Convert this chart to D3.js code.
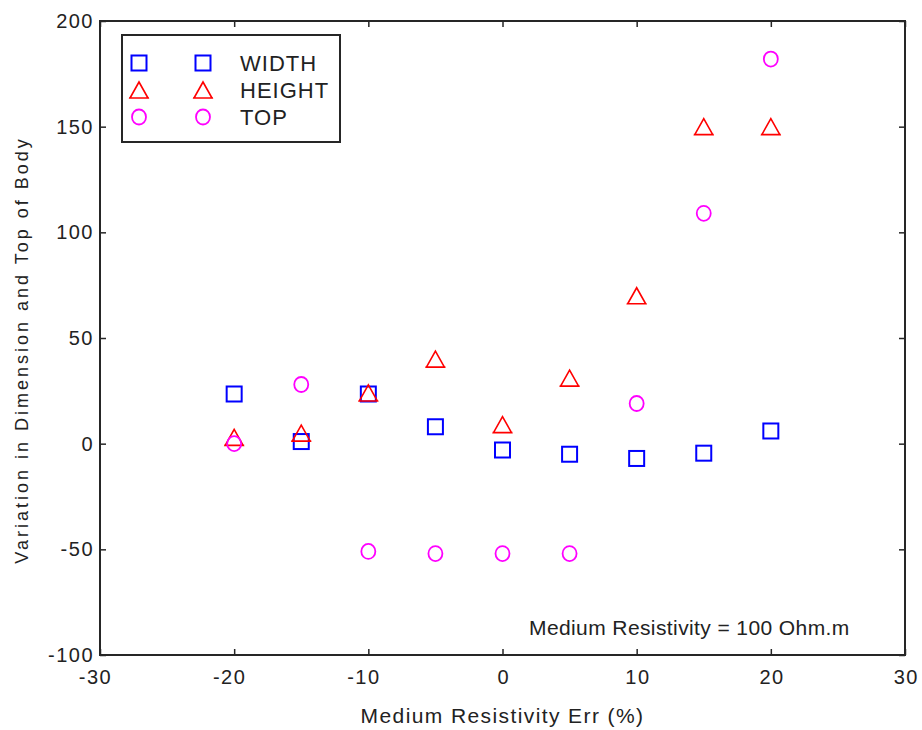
<!DOCTYPE html>
<html>
<head>
<meta charset="utf-8">
<script src="https://cdn.jsdelivr.net/npm/d3@7"></script>
<style>
  body { margin: 0; background: #fff; }
  text { font-family: 'Liberation Sans', Arial, sans-serif; fill: #222; }
</style>
</head>
<body>
<div id="chart"></div>
<script>
const errPct = [-20, -15, -10, -5, 0, 5, 10, 15, 20];
const widthVals = [23.5, 1, 23.5, 8, -3, -5, -7, -4.5, 6];
const heightVals = [3, 5, 24, 40, 9, 31, 70, 150, 150];
const topVals = [0, 28, -51, -52, -52, -52, 19, 109, 182];
const xTicks = [-30, -20, -10, 0, 10, 20, 30];
const yTicks = [-100, -50, 0, 50, 100, 150, 200];
const seriesNames = ['WIDTH', 'HEIGHT', 'TOP'];

const W = 922, H = 730;
const margin = { top: 21, right: 17, bottom: 75, left: 100 };

const svg = d3.select('#chart').append('svg')
  .attr('width', W)
  .attr('height', H);

const xScale = d3.scaleLinear()
  .domain([-30, 30])
  .range([margin.left, W - margin.right]);

const yScale = d3.scaleLinear()
  .domain([-100, 200])
  .range([H - margin.bottom, margin.top]);

const axisColor = '#262626';

// frame
svg.append('rect')
  .attr('x', xScale(-30))
  .attr('y', yScale(200))
  .attr('width', xScale(30) - xScale(-30))
  .attr('height', yScale(-100) - yScale(200))
  .attr('fill', 'none')
  .attr('stroke', axisColor)
  .attr('stroke-width', 2);

// axes with inward ticks, plain hyphen minus
const fmt = d => String(d);
const xAxis = svg.append('g')
  .attr('transform', `translate(0,${yScale(-100)})`)
  .call(d3.axisBottom(xScale).tickValues(xTicks).tickFormat(fmt).tickSizeInner(-6).tickSizeOuter(0).tickPadding(15));
const xAxisTop = svg.append('g')
  .attr('transform', `translate(0,${yScale(200)})`)
  .call(d3.axisTop(xScale).tickValues(xTicks).tickSizeInner(-6).tickSizeOuter(0).tickFormat(''));
const yAxis = svg.append('g')
  .attr('transform', `translate(${xScale(-30)},0)`)
  .call(d3.axisLeft(yScale).tickValues(yTicks).tickFormat(fmt).tickSizeInner(-6).tickSizeOuter(0).tickPadding(6));
const yAxisRight = svg.append('g')
  .attr('transform', `translate(${xScale(30)},0)`)
  .call(d3.axisRight(yScale).tickValues(yTicks).tickSizeInner(-6).tickSizeOuter(0).tickFormat(''));

[xAxis, xAxisTop, yAxis, yAxisRight].forEach(g => {
  g.select('.domain').remove();
  g.selectAll('line').attr('stroke', axisColor).attr('stroke-width', 1.5);
  g.selectAll('text')
    .attr('font-family', "'Liberation Sans', Arial, sans-serif")
    .attr('font-size', 20)
    .attr('letter-spacing', 1.5)
    .attr('fill', '#222');
});
// digits centred on the tick, the minus hangs to the left
xAxis.selectAll('text').attr('dx', d => d < 0 ? -5 : 0.75);

// marker shapes
function drawMarker(g, kind) {
  if (kind === 'WIDTH') {
    g.append('rect')
      .attr('x', -7.5).attr('y', -7.5)
      .attr('width', 15).attr('height', 15)
      .attr('fill', 'none')
      .attr('stroke', '#0000ff')
      .attr('stroke-width', 2);
  } else if (kind === 'HEIGHT') {
    g.append('path')
      .attr('d', 'M0,-8 L9,8 L-9,8 Z M-10,8 L10,8')
      .attr('fill', 'none')
      .attr('stroke', '#ff0000')
      .attr('stroke-width', 1.6);
  } else {
    g.append('ellipse')
      .attr('rx', 7).attr('ry', 7.5)
      .attr('fill', 'none')
      .attr('stroke', '#ff00ff')
      .attr('stroke-width', 1.8);
  }
}

const seriesData = [
  { name: 'WIDTH', values: widthVals },
  { name: 'HEIGHT', values: heightVals },
  { name: 'TOP', values: topVals }
];

seriesData.forEach(s => {
  svg.append('g')
    .selectAll('g')
    .data(errPct.map((x, i) => ({ x, y: s.values[i] })))
    .join('g')
    .attr('transform', d => `translate(${xScale(d.x)},${yScale(d.y)})`)
    .each(function() { drawMarker(d3.select(this), s.name); });
});

// legend
const legend = svg.append('g');
legend.append('rect')
  .attr('x', 122).attr('y', 35)
  .attr('width', 218).attr('height', 107)
  .attr('fill', '#fff')
  .attr('stroke', axisColor)
  .attr('stroke-width', 2);

seriesNames.forEach((name, i) => {
  const cy = 63 + i * 27;
  [139, 203].forEach(cx => {
    const g = legend.append('g').attr('transform', `translate(${cx},${cy})`);
    drawMarker(g, name);
  });
  legend.append('text')
    .attr('x', 240).attr('y', cy)
    .attr('dy', '0.36em')
    .attr('font-size', 22)
    .attr('letter-spacing', 1)
    .text(name);
});

// annotation
svg.append('text')
  .attr('x', 529).attr('y', 627)
  .attr('dy', '0.36em')
  .attr('font-size', 21)
  .attr('letter-spacing', 0.4)
  .text('Medium Resistivity = 100 Ohm.m');

// axis titles
svg.append('text')
  .attr('x', (xScale(-30) + xScale(30)) / 2)
  .attr('y', 715)
  .attr('dy', '0.36em')
  .attr('text-anchor', 'middle')
  .attr('font-size', 21)
  .attr('letter-spacing', 1.4)
  .text('Medium Resistivity Err (%)');

svg.append('text')
  .attr('transform', `translate(22,${(yScale(-100) + yScale(200)) / 2 + 12}) rotate(-90)`)
  .attr('dy', '0.36em')
  .attr('text-anchor', 'middle')
  .attr('font-size', 18)
  .attr('letter-spacing', 3)
  .text('Variation in Dimension and Top of Body');
</script>
</body>
</html>
